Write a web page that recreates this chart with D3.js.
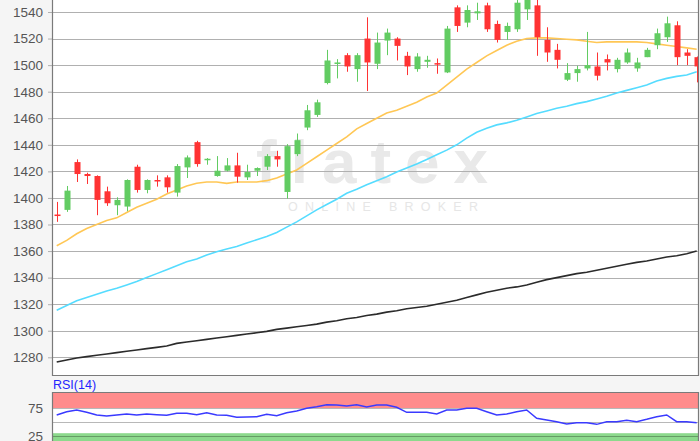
<!DOCTYPE html>
<html>
<head>
<meta charset="utf-8">
<script src="https://d3js.org/d3.v7.min.js"></script>
<style>
  body { margin: 0; background: #f5f5f5; }
  svg { display: block; font-family: "Liberation Sans", Arial, sans-serif; }
  .tick-label { fill: #555; font-size: 13.5px; }
</style>
</head>
<body>
<div class="chart-wrapper"></div>
<script>
// daily candles (oldest first)
var opens  = [1387.5,1391,1427,1418,1416.5,1405,1394.5,1393.5,1423.5,1406,1413.5,1415.5,1404,1423,1442,1428.5,
              1416.5,1420.5,1424.5,1415.5,1420.5,1423.5,1431.5,1404.5,1433,1453,1462.5,1486.5,1501,1507.5,1497,1520,
              1501,1518.5,1520,1507,1497,1502.5,1501.5,1494.5,1543.5,1532,1539,1545,1531,1525,1527,1542,
              1545,1519,1511.5,1489,1494,1497.5,1499,1504.5,1497,1502,1497.5,1506,1515,1521,1530,1509.5,1506];
var highs  = [1397,1409,1429,1419,1417,1408.5,1400.5,1414,1425,1414,1417,1417,1425.5,1432,1443,1430,
              1431.5,1430,1434,1425,1423,1433,1435.5,1440.5,1448.5,1470,1474,1511.5,1504.5,1509,1509,1536,
              1524.5,1527.5,1521,1510,1509,1507,1505,1529.5,1545,1545,1547,1547,1533.5,1532,1549,1556,
              1552,1528.5,1516,1501.5,1499.5,1525,1509.5,1508,1505.5,1512.5,1505.5,1513,1527.5,1536.5,1533,1512,1506.5];
var lows   = [1382,1389.5,1412,1410.5,1387,1394,1387,1390,1404,1403.5,1408.5,1404,1401,1415,1423.5,1425,
              1416,1420,1411.5,1413.5,1416.5,1421,1423.5,1399.5,1431.5,1451,1461,1485.5,1490,1495,1487.5,1480.5,
              1497,1507.5,1503.5,1492.5,1495,1498,1493.5,1494,1525,1528.5,1534,1525,1517,1519,1525,1534,
              1507,1502.5,1497.5,1488,1487.5,1496,1488.5,1496,1494.5,1501,1495,1506,1512,1517.5,1500,1500,1487];
var closes = [1386.5,1405.5,1418,1416.5,1398.5,1396,1398.5,1413.5,1406,1413.5,1412.5,1408,1424,1430.5,1425.5,1429.5,
              1420.5,1424.5,1416,1419.5,1422.5,1431.5,1429,1439,1443.5,1466,1472,1503.5,1502,1499,1507.5,1502,
              1517,1524.5,1514.5,1499,1506.5,1504,1500.5,1527.5,1529.5,1541.5,1540.5,1527,1519,1529.5,1547,1552,
              1521,1509.5,1504,1494,1497,1500,1492,1502,1504,1509.5,1502,1511.5,1524,1531.5,1506,1507,1499];

// moving averages (short / medium / long)
var maShort = [1364,1368,1373,1377,1380,1383,1385,1389,1393,1396,1399,1403,1406,1409,1411,1412,
               1412,1411,1412,1412,1412,1413,1415,1418,1421,1426,1431,1436,1441,1446,1452,1456,
               1460,1464,1466,1469,1472,1476,1479,1485,1491,1497,1502,1507,1511,1515,1518,1520,
               1520.5,1520.5,1520,1519.5,1519,1518,1517,1517.5,1517.5,1517.5,1517.5,1517,1516,1515,1514,1513,1512];
var maMid   = [1315.5,1319,1322.5,1325,1327.5,1330,1332,1334.5,1337,1340,1343,1346,1349,1352,1354,1357,
               1359.5,1361.5,1363.5,1366,1368.5,1371,1374,1378,1382,1386.5,1391,1395,1399,1403.5,1406.5,1410,
               1413,1416,1419.5,1422.5,1425.5,1429,1432.5,1436,1440,1445,1449.5,1452.5,1455,1456.5,1458.5,1461,
               1463.5,1465.5,1467.5,1469,1471,1472.5,1474.5,1476.5,1479,1481,1483,1485,1488,1490,1491.5,1492.5,1495];
var maLong  = [1276.5,1278,1279.5,1280.5,1281.5,1282.5,1283.5,1284.5,1285.5,1286.5,1287.5,1288.5,1290.5,1291.5,1292.5,1293.5,
               1294.5,1295.5,1296.5,1297.5,1298.5,1299.5,1301,1302,1303,1304,1305,1306.5,1307.5,1309,1310,1311.5,
               1312.5,1314,1315,1316.5,1317.5,1318.5,1320,1321.5,1323,1325,1327,1329,1330.5,1332,1333,1334.5,
               1336.5,1338.5,1340,1341.5,1343,1344,1345.5,1347,1348.5,1350,1351.5,1352.5,1354,1355.5,1356.5,1358,1360];

// RSI(14)
var rsi = [62.5,68.4,71.4,67.3,62.5,60.7,62.5,64.3,62.5,64.3,63,62,65.5,65.5,63,66.6,
           62.5,62,58.4,59,59.5,63.7,61.3,66.6,69.6,74.4,77.4,80.9,80.4,78.6,80.9,76.8,
           80.4,80.4,76.2,67.3,67.3,67.3,64.3,71.4,71.4,74.4,74.4,68.4,62.5,64.3,68.4,71.4,
           56.6,53.6,50.6,46.4,48.8,48.8,45.8,50.6,50.6,53,50.6,54.8,59.5,62.5,50.6,50.6,48.8];

var priceTicks = [1280,1300,1320,1340,1360,1380,1400,1420,1440,1460,1480,1500,1520,1540];
var rsiTicks = [25,50,75];
var rsiLabels = [25,75];

var width = 700, height = 441;
var left = 52, right = 698, mainBottom = 375, rsiTop = 392;

var svg = d3.select(".chart-wrapper").append("svg")
    .attr("width", width)
    .attr("height", height);

var idx = d3.range(closes.length);

var x = d3.scaleBand()
    .domain(idx)
    .range([51.7, 701.7])
    .paddingInner(0.4)
    .paddingOuter(0.2);

var y = d3.scaleLinear()
    .domain([1280, 1540])
    .range([357.3, 12]);

var yr = d3.scaleLinear()
    .domain([25, 75])
    .range([436, 408]);

function cx(i) { return x(i) + x.bandwidth() / 2; }

var defs = svg.append("defs");
defs.append("clipPath").attr("id", "clip-main")
  .append("rect").attr("x", left).attr("y", 0).attr("width", right - left).attr("height", mainBottom);
defs.append("clipPath").attr("id", "clip-rsi")
  .append("rect").attr("x", left).attr("y", rsiTop).attr("width", right - left).attr("height", height - rsiTop);

/* MAIN PRICE PANEL */
svg.append("rect")
    .attr("x", left).attr("y", 0)
    .attr("width", right - left).attr("height", mainBottom)
    .attr("fill", "#fff");

var main = svg.append("g").attr("clip-path", "url(#clip-main)");

// watermark
main.append("text")
    .attr("x", 256).attr("y", 183)
    .attr("textLength", 232).attr("lengthAdjust", "spacing")
    .attr("font-size", 62).attr("font-weight", "bold")
    .attr("fill", "#e9e9e9")
    .text("flatex");
main.append("text")
    .attr("x", 288).attr("y", 211)
    .attr("textLength", 190).attr("lengthAdjust", "spacing")
    .attr("font-size", 12.5)
    .attr("fill", "#e6e6e6")
    .text("ONLINE BROKER");

// grid
main.selectAll("line.grid")
    .data(priceTicks)
    .enter().append("line")
    .attr("class", "grid")
    .attr("x1", left).attr("x2", right)
    .attr("y1", function(d) { return Math.round(y(d)) + 0.5; })
    .attr("y2", function(d) { return Math.round(y(d)) + 0.5; })
    .attr("stroke", "#b0b0b0")
    .attr("stroke-width", 1.2);

// moving averages
var maLines = [[maLong, "#2b2b2b"], [maMid, "#55dcff"], [maShort, "#ffc755"]];
maLines.forEach(function(m) {
    main.append("path")
        .datum(m[0])
        .attr("fill", "none")
        .attr("stroke", m[1])
        .attr("stroke-width", 1.6)
        .attr("d", d3.line()
            .x(function(d, i) { return cx(i); })
            .y(function(d) { return y(d); }));
});

// candles
var candles = main.selectAll("g.candle")
    .data(idx)
    .enter().append("g")
    .attr("class", "candle")
    .attr("fill", function(i) { return closes[i] >= opens[i] ? "#62cc62" : "#ff3333"; })
    .attr("stroke", function(i) { return closes[i] >= opens[i] ? "#62cc62" : "#ff3333"; });

candles.append("line")
    .attr("x1", function(i) { return Math.round(cx(i)) + 0.5; })
    .attr("x2", function(i) { return Math.round(cx(i)) + 0.5; })
    .attr("y1", function(i) { return y(highs[i]); })
    .attr("y2", function(i) { return y(lows[i]); });

candles.append("rect")
    .attr("stroke", "none")
    .attr("x", function(i) { return Math.round(cx(i)) - 2.5; })
    .attr("width", 6)
    .attr("y", function(i) { return y(Math.max(opens[i], closes[i])); })
    .attr("height", function(i) { return Math.max(1.5, Math.abs(y(opens[i]) - y(closes[i]))); });

// axis
var yAxis = svg.append("g")
    .attr("transform", "translate(" + left + ",0)")
    .call(d3.axisLeft(y).tickValues(priceTicks).tickSize(4).tickPadding(5).tickFormat(d3.format("d")));
yAxis.select(".domain").remove();
yAxis.selectAll(".tick line").attr("stroke", "#b0b0b0");
yAxis.selectAll(".tick text").attr("class", "tick-label").attr("font-family", null).attr("font-size", null);

// frame
svg.append("path")
    .attr("d", "M" + (left + 0.5) + ",0V" + (mainBottom + 0.5) + "H" + (right + 0.5) + "V0")
    .attr("fill", "none")
    .attr("stroke", "#7a7a7a")
    .attr("stroke-width", 1.2);

/* RSI PANEL */
svg.append("text")
    .attr("x", 53).attr("y", 389)
    .attr("font-size", 12.5)
    .attr("fill", "#2424ff")
    .text("RSI(14)");

svg.append("rect")
    .attr("x", left).attr("y", rsiTop)
    .attr("width", right - left).attr("height", height - rsiTop)
    .attr("fill", "#fff");

var rp = svg.append("g").attr("clip-path", "url(#clip-rsi)");

rp.append("rect")
    .attr("x", left).attr("y", rsiTop)
    .attr("width", right - left).attr("height", yr(75) - rsiTop)
    .attr("fill", "#ff8c8c");
rp.append("rect")
    .attr("x", left).attr("y", yr(30))
    .attr("width", right - left).attr("height", height - yr(30))
    .attr("fill", "#8cd98c");

rp.selectAll("line.rgrid")
    .data(rsiTicks)
    .enter().append("line")
    .attr("class", "rgrid")
    .attr("x1", left).attr("x2", right)
    .attr("y1", function(d) { return Math.round(yr(d)) + 0.5; })
    .attr("y2", function(d) { return Math.round(yr(d)) + 0.5; })
    .attr("stroke", "#000")
    .attr("stroke-opacity", 0.28);

rp.append("path")
    .datum(rsi)
    .attr("fill", "none")
    .attr("stroke", "#3a3aff")
    .attr("stroke-width", 1.5)
    .attr("d", d3.line()
        .x(function(d, i) { return cx(i); })
        .y(function(d) { return yr(d); }));

svg.selectAll("text.rlab")
    .data(rsiLabels)
    .enter().append("text")
    .attr("class", "rlab tick-label")
    .attr("x", 43)
    .attr("y", function(d) { return yr(d) + 4.5; })
    .attr("text-anchor", "end")
    .text(function(d) { return d; });

svg.append("path")
    .attr("d", "M" + (left + 0.5) + "," + height + "V" + (rsiTop + 0.5) + "H" + (right + 0.5) + "V" + height)
    .attr("fill", "none")
    .attr("stroke", "#7a7a7a")
    .attr("stroke-width", 1.2);
</script>
</body>
</html>
